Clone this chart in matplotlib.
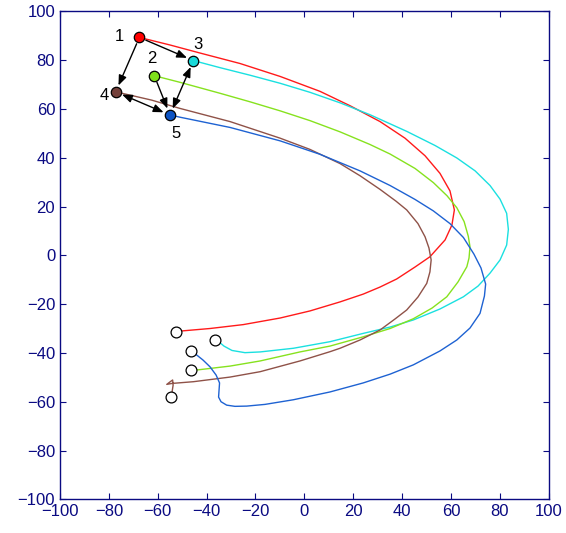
import matplotlib
matplotlib.use("Agg")
import matplotlib.pyplot as plt

plt.rcParams['font.family'] = ['Liberation Sans', 'DejaVu Sans']

AXIS_COLOR = '#0a0a82'

# trajectories (start node first, end circle last)
red_x = [-67.5, -55.0, -42.7, -26.3, -9.9, 6.4, 18.7, 31.0, 41.2, 49.4, 55.5, 59.6, 61.4, 60.4, 57.6,
         51.4, 45.3, 37.8, 31.0, 24.1, 14.6, 2.3, -9.9, -25.0, -38.6, -50.2, -52.6]
red_y = [89.3, 86.2, 82.9, 78.6, 73.3, 67.2, 61.3, 54.8, 48.0, 40.8, 33.6, 26.4, 18.6, 12.4, 6.3,
         -0.6, -4.8, -9.7, -13.0, -15.9, -19.1, -22.8, -25.7, -28.4, -30.0, -31.0, -31.3]

cyan_x = [-45.4, -34.5, -22.2, -9.9, 2.3, 14.6, 26.9, 41.9, 53.5, 62.4, 69.9, 76.0, 80.1, 82.8, 83.5, 82.8,
          80.1, 76.0, 71.1, 65.1, 55.5, 44.6, 35.1, 24.1, 10.5, -4.5, -18.1, -24.3, -29.6, -32.9, -34.9, -36.5]
cyan_y = [79.8, 76.9, 73.8, 70.5, 66.8, 62.5, 57.6, 50.8, 45.0, 39.9, 34.6, 28.6, 23.0, 17.2, 10.6, 4.2,
          -1.9, -7.3, -12.6, -17.0, -22.0, -26.5, -29.4, -32.0, -35.4, -38.1, -39.6, -39.9, -39.0, -37.2, -35.5, -34.7]

green_x = [-61.4, -50.9, -34.5, -22.2, -9.9, 2.3, 14.6, 26.9, 35.1, 45.3, 52.8, 58.4, 62.4, 65.4, 67.1,
           67.8, 67.4, 66.5, 62.9, 58.3, 52.3, 44.6, 35.1, 24.1, 10.5, -1.8, -18.1, -30.4, -44.0, -46.4]
green_y = [73.6, 70.9, 66.4, 62.9, 59.2, 55.2, 50.6, 45.4, 41.5, 35.6, 29.8, 24.4, 19.5, 13.8, 7.8,
           3.5, -1.1, -4.7, -10.9, -17.0, -21.6, -26.0, -30.0, -33.4, -37.2, -39.6, -43.3, -45.4, -47.0, -47.0]

brown_x = [-77.2, -62.5, -50.9, -30.4, -9.9, 2.3, 14.6, 22.8, 31.0, 37.5, 41.9, 46.5, 49.4, 51.0, 51.9, 51.4, 50.1,
           46.5, 41.9, 37.1, 31.0, 22.8, 14.6, 10.5, -1.8, -18.1, -30.4, -45.4, -54.1, -56.3, -55.0, -53.9, -53.7, -54.1]
brown_y = [67.0, 63.6, 60.2, 54.8, 48.0, 43.4, 37.6, 32.6, 27.0, 22.2, 18.6, 13.0, 7.6, 3.0, -1.9, -6.8, -11.5,
           -17.1, -22.4, -26.1, -30.6, -34.7, -38.1, -39.5, -43.3, -47.7, -49.9, -51.8, -52.5, -52.9, -51.9, -51.1, -53.2, -55.8]

blue_x = [-55.0, -50.9, -30.4, -9.9, 6.4, 22.8, 35.1, 45.3, 52.8, 59.6, 65.1, 69.4, 72.3, 74.2, 73.7, 71.9, 67.8,
          62.4, 55.5, 44.6, 35.1, 24.1, 10.5, -4.5, -16.1, -23.6, -28.4, -31.8, -34.1, -35.1, -34.9, -34.7, -36.1,
          -38.6, -41.5, -44.0, -46.4]
blue_y = [57.5, 56.6, 52.4, 46.9, 41.4, 34.6, 28.6, 22.9, 18.2, 13.0, 7.3, 0.5, -5.2, -11.8, -16.7, -23.8, -29.8,
          -34.7, -39.2, -44.9, -48.7, -52.3, -56.0, -59.2, -61.1, -61.8, -61.9, -61.4, -60.0, -58.1, -55.2, -52.3, -49.1,
          -45.7, -42.9, -40.9, -39.2]

end_x = [-52.6, -36.5, -46.4, -54.6, -46.4]
end_y = [-31.3, -34.7, -47.0, -58.0, -39.2]

line_colors = ['#ff1a1a', '#1ae0e0', '#86e21e', '#8f5248', '#1e62d2']
curves = [(red_x, red_y), (cyan_x, cyan_y), (green_x, green_y), (brown_x, brown_y), (blue_x, blue_y)]

# node positions and labels
node_x = [-67.5, -61.4, -45.4, -77.2, -55.0]
node_y = [89.3, 73.6, 79.8, 67.0, 57.5]
node_colors = ['#ff0000', '#7fe01a', '#19d9d9', '#74403a', '#0c53c4']
node_labels = ['1', '2', '3', '4', '5']
label_x = [-75.5, -62.5, -43.5, -82.0, -52.5]
label_y = [89.5, 80.5, 86.5, 65.5, 50.0]

# arrows between nodes: (from, to, double headed)
links = [(0, 3, False), (0, 2, False), (1, 4, False), (2, 4, True), (3, 4, True)]

fig = plt.figure(figsize=(5.66, 5.33), dpi=100)
ax = fig.add_axes([0.106, 0.0632, 0.8634, 0.9156])

for (xs, ys), lc in zip(curves, line_colors):
    ax.plot(xs, ys, color=lc, lw=1.0, zorder=2, solid_joinstyle='round')

ax.plot(end_x, end_y, 'o', ls='none', ms=7.8, mfc='white', mec='black', mew=0.9, zorder=4)

for a, b, both in links:
    style = '<|-|>' if both else '-|>'
    ax.annotate('', xy=(node_x[b], node_y[b]), xytext=(node_x[a], node_y[a]),
                arrowprops=dict(arrowstyle=style + ',head_length=0.6,head_width=0.24',
                                color='black', lw=1.0, shrinkA=5, shrinkB=5),
                zorder=3)

for i in range(5):
    ax.plot(node_x[i], node_y[i], 'o', ms=7.5, mfc=node_colors[i], mec='black', mew=0.9, zorder=5)
    ax.text(label_x[i], label_y[i], node_labels[i], fontsize=12, ha='center', va='center', zorder=6)

ax.set_xlim(-100, 100)
ax.set_ylim(-100, 100)
ax.set_xticks(range(-100, 101, 20))
ax.set_yticks(range(-100, 101, 20))
ax.tick_params(direction='in', length=4, top=True, right=True, colors=AXIS_COLOR,
               labelsize=12, labelcolor=AXIS_COLOR, width=0.8)
for s in ax.spines.values():
    s.set_color(AXIS_COLOR)
    s.set_linewidth(1.0)

fig.savefig('out.png', dpi=100, facecolor='white')
